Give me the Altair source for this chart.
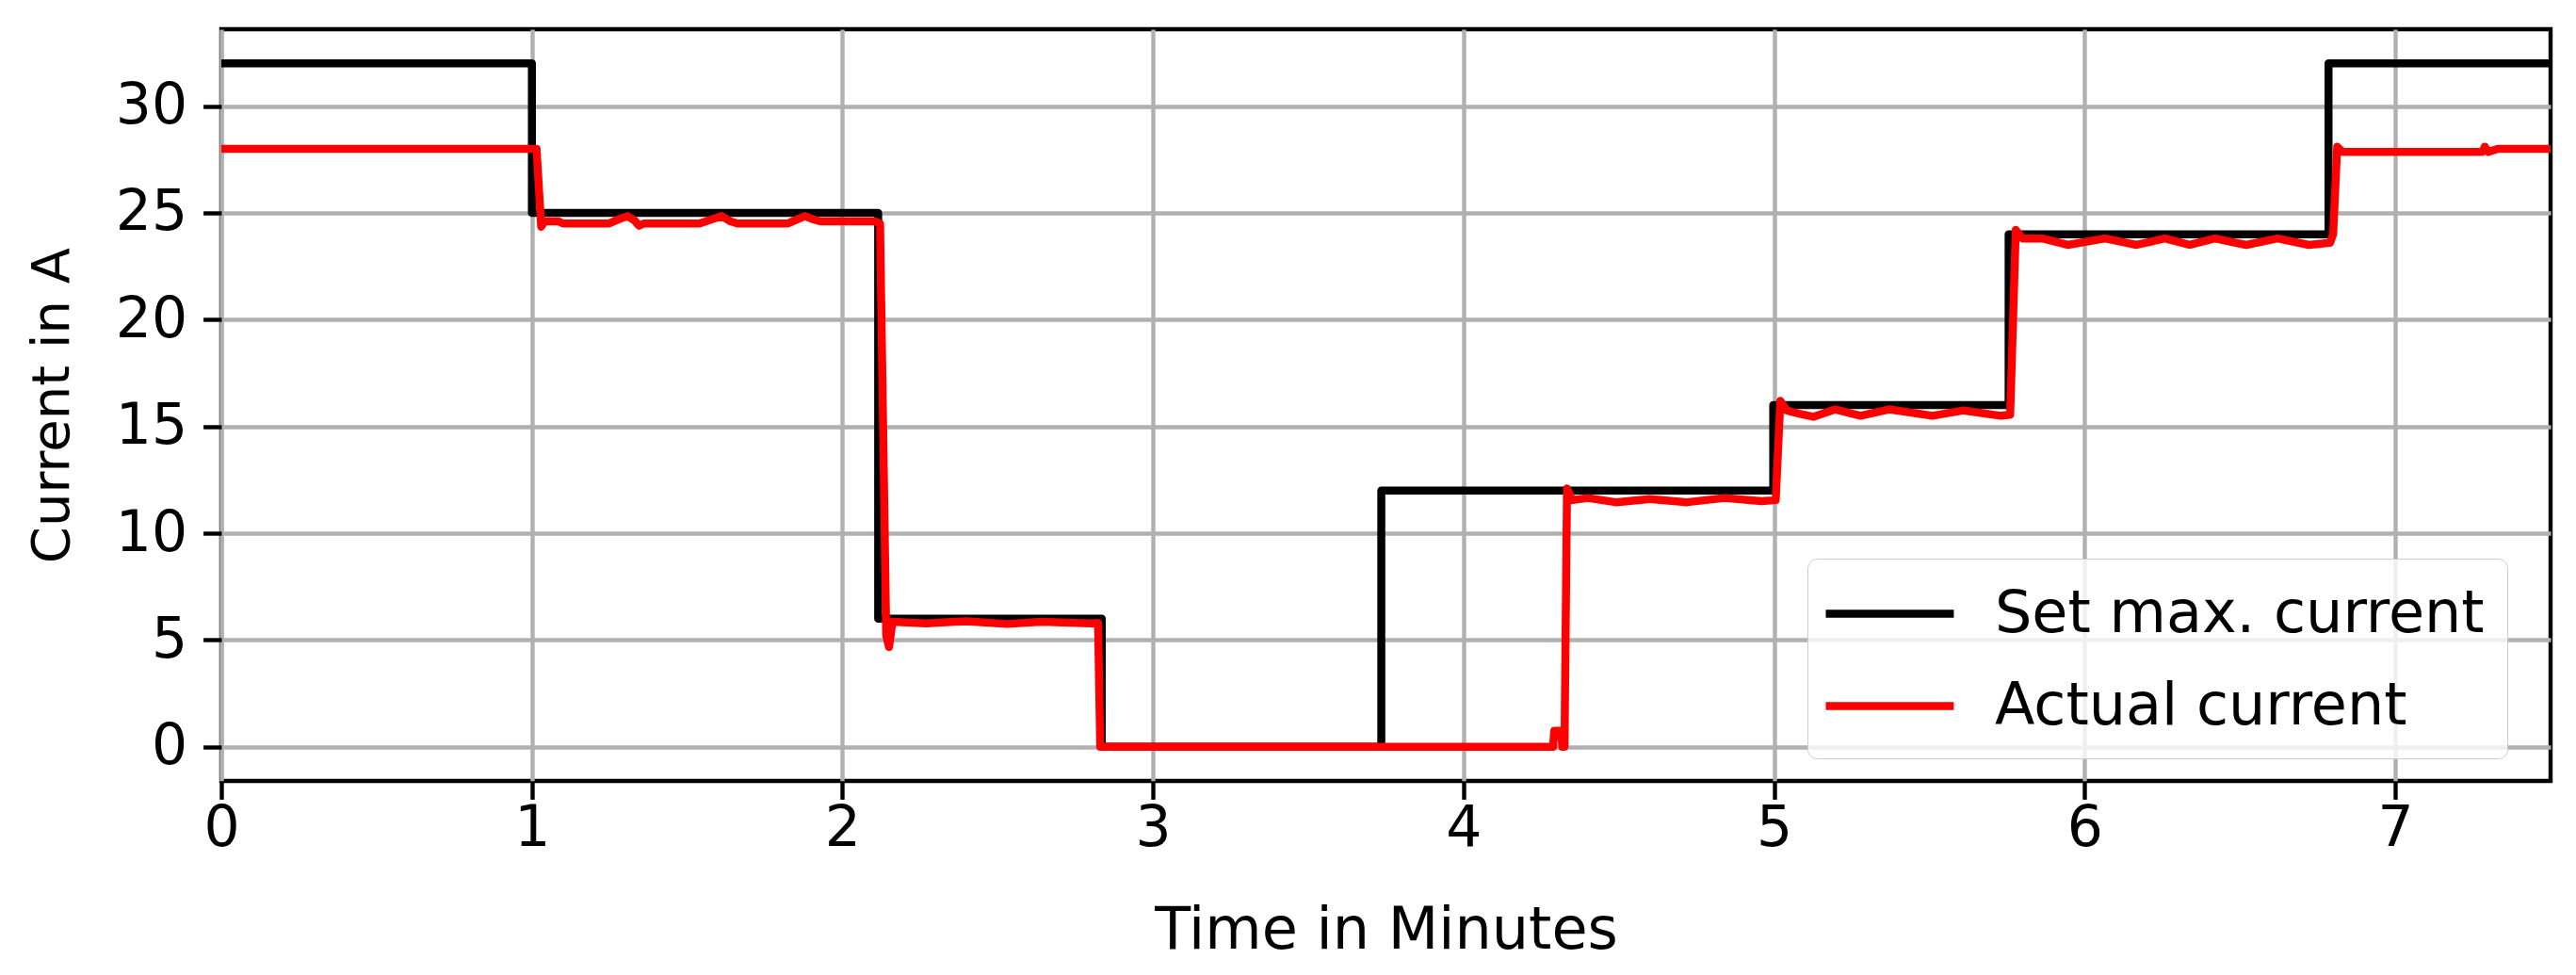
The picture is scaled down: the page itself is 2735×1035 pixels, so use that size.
import altair as alt
import pandas as pd

# Set max. current (step-after)
set_t = [0.0, 1.0, 2.115, 2.835, 3.735, 4.997, 5.755, 6.785, 7.5]
set_v = [32, 25, 6, 0, 12, 16, 24, 32, 32]

# Actual current (measured)
act_t = [0.0, 1.015, 1.03, 1.04, 1.086, 1.10, 1.247, 1.28, 1.308, 1.33, 1.345, 1.36,
         1.54, 1.58, 1.611, 1.64, 1.662, 1.823, 1.855, 1.879, 1.905, 1.929, 2.106, 2.121,
         2.141, 2.15, 2.161, 2.268, 2.40, 2.53, 2.64, 2.80, 2.823, 2.83,
         4.288, 4.292, 4.313, 4.318, 4.325, 4.333, 4.35, 4.40, 4.49, 4.60, 4.72, 4.84, 4.96, 5.005,
         5.02, 5.04, 5.08, 5.126, 5.197, 5.278, 5.37, 5.51, 5.61, 5.73, 5.76,
         5.778, 5.80, 5.864, 5.945, 6.066, 6.167, 6.258, 6.338, 6.419, 6.520, 6.621, 6.722, 6.79, 6.80,
         6.813, 6.83, 7.28, 7.288, 7.30, 7.33, 7.5]
act_v = [28, 28, 24.35, 24.6, 24.6, 24.5, 24.5, 24.7, 24.85, 24.65, 24.4, 24.5,
         24.5, 24.7, 24.85, 24.6, 24.5, 24.5, 24.7, 24.85, 24.7, 24.6, 24.6, 24.5,
         5.2, 4.67, 5.85, 5.78, 5.88, 5.75, 5.85, 5.78, 5.8, 0,
         0, 0.75, 0.75, 0, 0, 12.1, 11.55, 11.65, 11.45, 11.6, 11.45, 11.65, 11.5, 11.55,
         16.2, 15.75, 15.6, 15.45, 15.8, 15.5, 15.8, 15.5, 15.75, 15.5, 15.55,
         24.2, 23.8, 23.8, 23.5, 23.8, 23.5, 23.8, 23.5, 23.8, 23.5, 23.8, 23.5, 23.6, 24.0,
         28.1, 27.85, 27.85, 28.1, 27.85, 28.0, 28.0]

series_names = ["Set max. current", "Actual current"]
series_colors = ["#000000", "#ff0000"]
x_ticks = [0, 1, 2, 3, 4, 5, 6, 7]
y_ticks = [0, 5, 10, 15, 20, 25, 30]

df_set = pd.DataFrame({"t": set_t, "v": set_v, "series": series_names[0]})
df_act = pd.DataFrame({"t": act_t, "v": act_v, "series": series_names[1]})

FONT = "DejaVu Sans"

color = alt.Color(
    "series:N",
    scale=alt.Scale(domain=series_names, range=series_colors),
    legend=alt.Legend(
        title=None, orient="none", legendX=1684, legendY=562,
        symbolType="M-1.3,0H3.23", symbolStrokeWidth=8.5, symbolSize=3600,
        labelFontSize=62, labelFont=FONT, labelColor="black", labelOffset=106,
        rowPadding=32, padding=24, fillColor="rgba(255,255,255,0.8)",
        strokeColor="#cccccc", cornerRadius=10, labelLimit=1000,
    ),
)
x = alt.X("t:Q", scale=alt.Scale(domain=[0, 7.5], nice=False, zero=False),
          axis=alt.Axis(values=x_ticks, title="Time in Minutes", format="d",
                        labelFlush=False, labelPadding=2, titlePadding=48,
                        titleFontSize=62))
y = alt.Y("v:Q", scale=alt.Scale(domain=[-1.6, 33.6], nice=False, zero=False),
          axis=alt.Axis(values=y_ticks, title="Current in A", format="d",
                        labelPadding=17, titlePadding=38, titleFontSize=56))

black = alt.Chart(df_set).mark_line(interpolate="step-after", strokeWidth=8.5, clip=True,
                                    strokeJoin="round").encode(x=x, y=y, color=color)
red = alt.Chart(df_act).mark_line(strokeWidth=8.5, clip=True,
                                  strokeJoin="round").encode(x=x, y=y, color=color)

chart = alt.layer(black, red).properties(
    width=2473, height=798,
    padding={"left": 227, "top": 23, "right": 19, "bottom": 200},
    autosize=alt.AutoSizeParams(type="none"),
    background="white",
).configure_view(
    stroke="black", strokeWidth=4.4
).configure_axis(
    grid=True, gridColor="#b0b0b0", gridWidth=4.4, domain=False,
    ticks=True, tickColor="black", tickWidth=4.4, tickSize=19.4,
    labelFont=FONT, labelFontSize=60, labelColor="black",
    titleFont=FONT, titleColor="black", titleFontWeight="normal",
)

chart.save("out.html", embed_options={"renderer": "svg", "actions": False})
